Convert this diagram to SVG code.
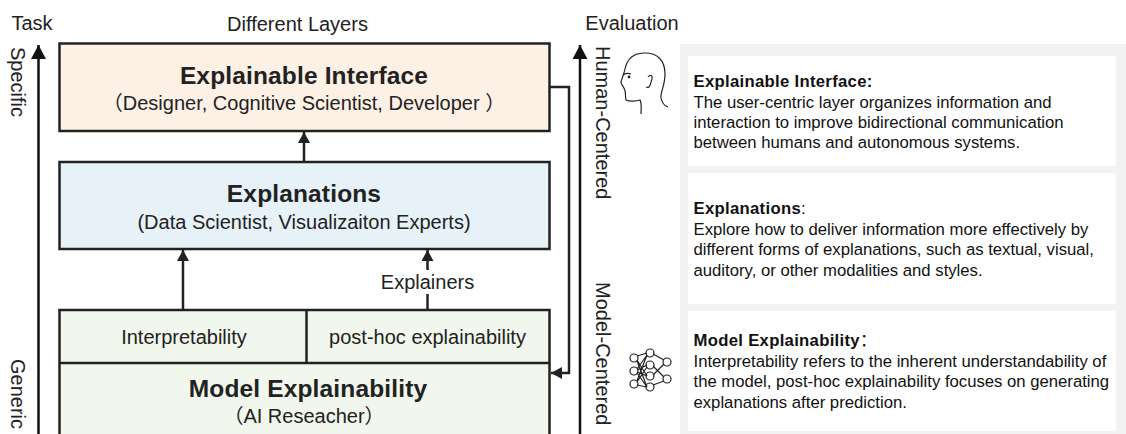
<svg xmlns="http://www.w3.org/2000/svg" width="1126" height="434" viewBox="0 0 1126 434">
<style>
text{font-family:"Liberation Sans","Noto Sans CJK SC",sans-serif;fill:#222}
.h{font-size:20px;text-anchor:middle}
.t{font-size:24.500px;font-weight:bold;text-anchor:middle;letter-spacing:.15px}
.s{font-size:20px;text-anchor:middle}
.l{font-size:20px;text-anchor:middle}
.b{font-size:16.700px;fill:#111}
.bb{font-size:16.700px;font-weight:bold;fill:#111;letter-spacing:.3px}
.box{stroke:#222;stroke-width:2.5}
.con{fill:none;stroke:#222;stroke-width:2.5}
.ax{fill:none;stroke:#111;stroke-width:2.5}
.ico{fill:none;stroke:#222;stroke-width:1.2}
</style>
<defs>
<marker id="a" markerUnits="userSpaceOnUse" markerWidth="12" markerHeight="12" refX="11" refY="6" orient="auto"><path d="M0 0L11 6L0 12Z" fill="#222"/></marker>
<marker id="ax" markerUnits="userSpaceOnUse" markerWidth="15" markerHeight="16" refX="14" refY="8" orient="auto"><path d="M0 0.5L14 8L0 15.500Z" fill="#111"/></marker>
</defs>
<rect x="680" y="44" width="446" height="390" fill="#f2f2f2"/>
<g id="axis-task">
<path class="ax" d="M38.500 434V45" marker-end="url(#ax)"/>
<text class="h" x="32" y="30">Task</text>
<text class="h" transform="translate(10.500,47) rotate(90)" style="text-anchor:start">Specific</text>
<text class="h" transform="translate(10.500,359) rotate(90)" style="text-anchor:start">Generic</text>
</g>
<text id="title-layers" class="h" x="297.500" y="31">Different Layers</text>
<g id="axis-evaluation">
<path class="ax" d="M580 434V45" marker-end="url(#ax)"/>
<text class="h" x="632" y="30">Evaluation</text>
<text class="h" transform="translate(596,46) rotate(90)" style="text-anchor:start">Human-Centered</text>
<text class="h" transform="translate(596,282) rotate(90)" style="text-anchor:start">Model-Centered</text>
</g>
<g id="node-interface">
<rect class="box" x="59.500" y="43.500" width="490" height="87.500" fill="#fdf1e6"/>
<text class="t" x="304" y="84">Explainable Interface</text>
<text class="s" x="304" y="110">（Designer, Cognitive Scientist, Developer ）</text>
</g>
<g id="node-explanations">
<rect class="box" x="59.500" y="162" width="490" height="87" fill="#e6f2f8"/>
<text class="t" x="304" y="202">Explanations</text>
<text class="s" x="304" y="229">(Data Scientist, Visualizaiton Experts)</text>
</g>
<g id="node-model">
<rect class="box" x="59.500" y="310" width="490" height="130" fill="#f1f7ec"/>
<path class="box" d="M59.500 363H549.500M306.500 310V363" fill="none"/>
<text class="s" x="184" y="344">Interpretability</text>
<text class="s" x="427.500" y="344">post-hoc explainability</text>
<text class="t" x="308" y="397">Model Explainability</text>
<text class="s" x="304" y="423">（AI Reseacher）</text>
</g>
<g id="connectors">
<path class="con" d="M304 162V132" marker-end="url(#a)"/>
<path class="con" d="M183 310V250" marker-end="url(#a)"/>
<path class="con" d="M427.500 270V250" marker-end="url(#a)"/>
<path class="con" d="M427.500 310V294"/>
<text class="l" x="427.500" y="289">Explainers</text>
<path class="con" d="M550 87H569V373H551" marker-end="url(#a)"/>
</g>
<g id="icon-head" class="ico">
<path d="M625 69C627 59 634 53 645 53C657 53 665 60 665 74C665 86 660 93 661 98C662 103 665 106 668 107"/>
<path d="M625 69C624 74 622 78 621 82C621 85 624 86 625 91C626 94 625 97 626 100C630 102 637 101 640 100C642 104 641 109 641 114"/>
<path d="M623 75C625 73 628 73 631 74"/>
<circle cx="629" cy="77" r="0.800" fill="#222"/>
<path d="M648 77C650 74 654 75 651 82C650 87 649 88 646 87"/>
</g>
<g id="icon-network" class="ico">
<circle cx="634" cy="358" r="4"/><circle cx="634" cy="371" r="4"/><circle cx="634" cy="384" r="4"/>
<circle cx="650" cy="353" r="4"/><circle cx="650" cy="365" r="4"/><circle cx="650" cy="376" r="4"/><circle cx="650" cy="387" r="4"/>
<circle cx="667" cy="362" r="4"/><circle cx="667" cy="379" r="4"/>
<path d="M637 356L647 353M637 360L647 376M637 361L647 387M637 369L647 355M637 370L647 365M637 372L647 376M637 373L647 387M637 381L647 355M637 382L647 367M637 385L647 387M653 354L664 360M653 366L664 377M653 375L664 364M653 385L664 381"/>
</g>
<g id="panel-interface">
<rect x="688" y="56" width="428" height="110" fill="#fff"/>
<text class="bb" x="693.500" y="87">Explainable Interface:</text>
<text class="b" x="693.500" y="108">The user-centric layer organizes information and</text>
<text class="b" x="693.500" y="128">interaction to improve bidirectional communication</text>
<text class="b" x="693.500" y="148">between humans and autonomous systems.</text>
</g>
<g id="panel-explanations">
<rect x="688" y="173" width="428" height="131" fill="#fff"/>
<text class="b" x="693.500" y="214"><tspan class="bb">Explanations</tspan>:</text>
<text class="b" x="693.500" y="235">Explore how to deliver information more effectively by</text>
<text class="b" x="693.500" y="255">different forms of explanations, such as textual, visual,</text>
<text class="b" x="693.500" y="276">auditory, or other modalities and styles.</text>
</g>
<g id="panel-model">
<rect x="688" y="311" width="428" height="120" fill="#fff"/>
<text class="b" x="693.500" y="346"><tspan class="bb">Model Explainability</tspan>：</text>
<text class="b" x="693.500" y="367">Interpretability refers to the inherent understandability of</text>
<text class="b" x="693.500" y="387">the model, post-hoc explainability focuses on generating</text>
<text class="b" x="693.500" y="408">explanations after prediction.</text>
</g>
</svg>
